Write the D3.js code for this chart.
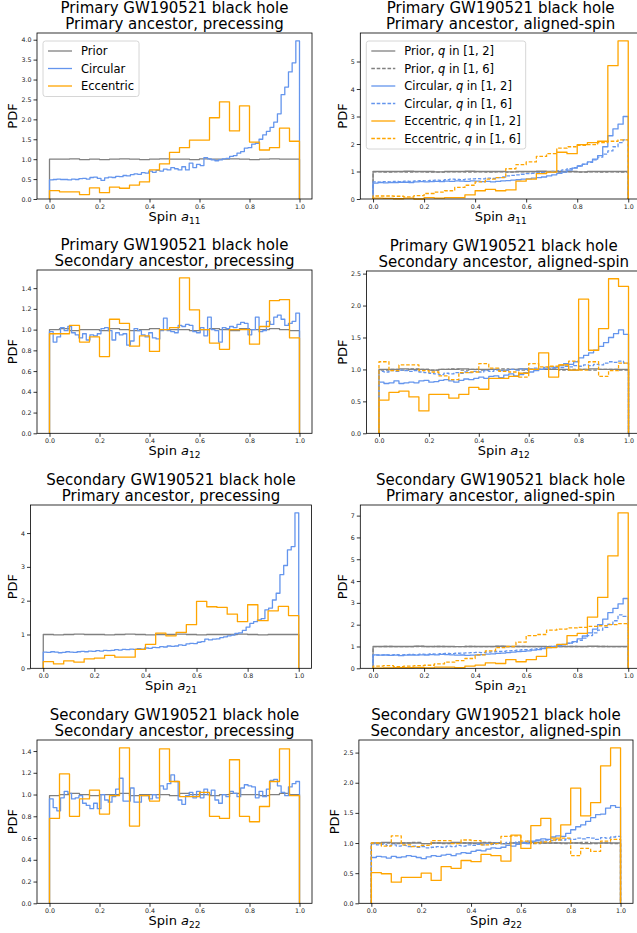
<!DOCTYPE html>
<html>
<head>
<meta charset="utf-8">
<script src="https://cdn.jsdelivr.net/npm/d3@7"></script>
<style>
    body { margin: 0; background: #fff; }
    svg { display: block; font-family: "DejaVu Sans", sans-serif; }
</style>
</head>
<body>
<div class="vis"></div>

<script>
    // ---- data (PDF heights per bin, bins span 0..1) ----
    var xTicks = [0, 0.2, 0.4, 0.6, 0.8, 1.0];
    var yTicksP1 = [0, 0.5, 1.0, 1.5, 2.0, 2.5, 3.0, 3.5, 4.0];
    var yTicksP2 = [0, 1, 2, 3, 4, 5];
    var yTicksP3 = [0, 0.2, 0.4, 0.6, 0.8, 1.0, 1.2, 1.4];
    var yTicksP4 = [0, 0.5, 1.0, 1.5, 2.0, 2.5];
    var yTicksP5 = [0, 1, 2, 3, 4];
    var yTicksP6 = [0, 1, 2, 3, 4, 5, 6, 7];
    var yTicksP7 = [0, 0.2, 0.4, 0.6, 0.8, 1.0, 1.2, 1.4];
    var yTicksP8 = [0, 0.5, 1.0, 1.5, 2.0, 2.5];

    var titles = [
        ["Primary GW190521 black hole", "Primary ancestor, precessing"],
        ["Primary GW190521 black hole", "Primary ancestor, aligned-spin"],
        ["Primary GW190521 black hole", "Secondary ancestor, precessing"],
        ["Primary GW190521 black hole", "Secondary ancestor, aligned-spin"],
        ["Secondary GW190521 black hole", "Primary ancestor, precessing"],
        ["Secondary GW190521 black hole", "Primary ancestor, aligned-spin"],
        ["Secondary GW190521 black hole", "Secondary ancestor, precessing"],
        ["Secondary GW190521 black hole", "Secondary ancestor, aligned-spin"]
    ];
    var spinSubs = ["11", "11", "12", "12", "21", "21", "22", "22"];

    var modelNames = ["Prior", "Circular", "Eccentric"];
    var qRanges = ["[1, 2]", "[1, 6]"];

    // panel 1: primary BH, primary ancestor, precessing
    var prior_p1 = [1.00, 1.00, 1.01, 0.99, 1.00, 0.99, 1.00, 1.01, 1.00, 0.99, 1.00, 1.01, 1.00, 1.00, 0.99, 1.01, 1.00, 1.00, 1.01, 1.00, 0.99, 1.00, 1.01, 1.00, 1.00];
    var circ_p1 = [0.48, 0.49, 0.50, 0.49, 0.49, 0.48, 0.50, 0.49, 0.51, 0.52, 0.50, 0.54, 0.55, 0.52, 0.47, 0.53, 0.55, 0.54, 0.57, 0.56, 0.59, 0.58, 0.61, 0.63, 0.62, 0.66, 0.65, 0.70, 0.67, 0.72, 0.70, 0.75, 0.73, 0.79, 0.76,
        0.73, 0.81, 0.73, 0.90, 0.79, 0.87, 0.84, 1.04, 1.01, 0.98, 0.96, 0.98, 1.01, 1.02, 1.07, 1.09, 1.15, 1.19, 1.28, 1.29, 1.38, 1.40, 1.50, 1.61, 1.70, 1.80, 1.93, 2.14, 2.62, 2.81, 3.19, 3.42, 3.97];
    var ecc_p1 = [0.21, 0.18, 0.18, 0.11, 0.28, 0.16, 0.30, 0.27, 0.35, 0.43, 0.73, 0.88, 1.17, 1.29, 1.48, 1.48, 2.04, 2.44, 1.71, 2.34, 1.43, 1.23, 1.29, 1.78, 1.45];

    // panel 2: primary BH, primary ancestor, aligned-spin
    var prior_p2_q2 = [1.00, 1.00, 1.00, 1.01, 1.00, 1.00, 0.99, 1.00, 1.00, 1.01, 1.00, 1.00, 1.00, 0.99, 1.00, 1.00, 1.01, 1.00, 1.00, 1.00, 0.99, 1.00, 1.00, 1.00, 1.00];
    var prior_p2_q6 = [0.99, 0.98, 0.99, 0.98, 0.99, 0.98, 0.98, 0.99, 0.99, 0.98, 0.99, 0.98, 0.99, 0.98, 0.99, 0.99, 0.98, 0.99, 0.98, 0.99, 0.98, 0.99, 0.98, 0.99, 0.98];
    var circ_p2_q2 = [0.58, 0.60, 0.59, 0.60, 0.60, 0.61, 0.61, 0.60, 0.62, 0.63, 0.62, 0.63, 0.64, 0.63, 0.65, 0.64, 0.66, 0.65, 0.64, 0.66, 0.65, 0.63, 0.64, 0.62, 0.64,
        0.66, 0.67, 0.69, 0.70, 0.72, 0.73, 0.76, 0.78, 0.80, 0.84, 0.88, 0.93, 0.98, 1.05, 1.12, 1.20, 1.27, 1.35, 1.45, 1.58, 1.90, 2.30, 2.55, 2.72, 3.00];
    var circ_p2_q6 = [0.62, 0.61, 0.63, 0.62, 0.64, 0.63, 0.65, 0.64, 0.66, 0.67, 0.66, 0.68, 0.69, 0.68, 0.70, 0.72, 0.71, 0.70, 0.72, 0.73, 0.74, 0.73, 0.76, 0.75, 0.78,
        0.80, 0.84, 0.86, 0.88, 0.90, 0.92, 0.93, 0.95, 0.97, 0.98, 1.00, 1.03, 1.06, 1.10, 1.14, 1.20, 1.26, 1.33, 1.42, 1.52, 1.63, 1.75, 1.90, 2.05, 2.15];
    var ecc_p2_q2 = [0.03, 0.02, 0.01, 0.03, 0.00, 0.05, 0.03, 0.05, 0.05, 0.15, 0.30, 0.35, 0.30, 0.33, 0.65, 0.72, 0.92, 0.98, 1.70, 1.65, 1.98, 2.05, 2.10, 4.85, 5.75];
    var ecc_p2_q6 = [0.11, 0.11, 0.10, 0.08, 0.12, 0.20, 0.25, 0.30, 0.42, 0.50, 0.62, 0.72, 0.78, 1.10, 1.25, 1.35, 1.55, 1.65, 1.85, 1.90, 1.95, 1.98, 2.05, 2.10, 2.15];

    // panel 3: primary BH, secondary ancestor, precessing
    var prior_p3 = [1.00, 1.01, 0.99, 1.00, 1.00, 0.99, 1.01, 1.00, 0.99, 1.00, 1.01, 1.00, 1.00, 1.00, 0.99, 1.00, 1.01, 1.00, 0.99, 1.01, 1.00, 1.00, 1.01, 1.00, 0.99];
    var circ_p3 = [0.98, 0.88, 0.93, 1.02, 0.99, 1.03, 0.97, 0.95, 0.92, 0.96, 0.90, 0.95, 0.94, 0.96, 1.01, 1.02, 0.99, 0.90, 0.97, 0.95, 0.96, 0.85, 0.89, 1.01, 0.99, 0.95, 0.93, 0.97, 0.92, 0.91, 0.99, 1.11, 0.99, 0.98,
        0.97, 1.04, 1.03, 1.05, 1.04, 0.98, 0.97, 1.02, 0.94, 1.12, 1.00, 0.99, 0.88, 1.02, 1.01, 1.03, 1.02, 1.05, 1.07, 1.06, 0.95, 1.00, 1.12, 0.98, 0.99, 1.08, 1.05, 1.12, 1.14, 1.10, 1.04, 1.06, 1.08, 1.16];
    var ecc_p3 = [0.96, 0.96, 1.04, 0.88, 0.93, 0.74, 1.10, 1.06, 0.84, 0.94, 0.79, 1.00, 1.02, 1.50, 1.19, 1.00, 0.87, 0.81, 1.00, 1.00, 0.86, 1.03, 1.28, 1.29, 0.92];

    // panel 4: primary BH, secondary ancestor, aligned-spin
    var prior_p4_q2 = [1.00, 1.00, 1.01, 1.00, 1.00, 0.99, 1.00, 1.00, 1.01, 1.00, 1.00, 1.00, 0.99, 1.00, 1.01, 1.00, 1.00, 1.00, 1.00, 0.99, 1.00, 1.01, 1.00, 1.00, 1.00];
    var prior_p4_q6 = [0.99, 1.00, 0.99, 1.01, 1.00, 0.99, 1.00, 1.01, 0.99, 1.00, 0.99, 1.00, 1.01, 1.00, 0.99, 1.00, 1.00, 1.01, 0.99, 1.00, 1.00, 0.99, 1.00, 1.00, 0.99];
    var circ_p4_q2 = [0.80, 0.78, 0.79, 0.82, 0.78, 0.79, 0.80, 0.79, 0.82, 0.83, 0.80, 0.81, 0.83, 0.84, 0.82, 0.80, 0.83, 0.85, 0.84, 0.86, 0.88, 0.86, 0.89, 0.90, 0.87,
        0.91, 0.93, 0.90, 0.92, 0.95, 0.96, 0.98, 1.00, 1.02, 1.04, 1.03, 1.06, 1.09, 1.08, 1.12, 1.18, 1.22, 1.26, 1.30, 1.36, 1.42, 1.50, 1.56, 1.62, 1.55];
    var circ_p4_q6 = [0.97, 0.96, 0.98, 0.97, 0.99, 0.98, 0.97, 0.98, 0.96, 0.95, 0.94, 0.93, 0.92, 0.94, 0.93, 0.95, 0.94, 0.96, 0.95, 0.97, 0.96, 0.98, 0.97, 0.99, 0.98,
        0.99, 1.00, 0.99, 1.01, 1.00, 1.01, 1.02, 1.00, 1.03, 1.02, 1.04, 1.03, 1.05, 1.04, 1.06, 1.05, 1.07, 1.06, 1.08, 1.07, 1.10, 1.12, 1.11, 1.13, 1.10];
    var ecc_p4_q2 = [0.52, 0.64, 0.66, 0.57, 0.35, 0.61, 0.61, 0.55, 0.61, 0.72, 0.69, 0.86, 0.86, 0.89, 0.94, 1.00, 1.26, 0.88, 1.07, 0.99, 2.10, 1.30, 1.64, 2.42, 2.30];
    var ecc_p4_q6 = [1.12, 0.98, 1.07, 1.07, 0.98, 0.96, 0.90, 0.84, 0.95, 0.96, 1.09, 1.02, 0.97, 0.96, 0.88, 1.09, 1.04, 1.05, 1.07, 1.13, 0.99, 1.12, 0.89, 0.98, 1.10];

    // panel 5: secondary BH, primary ancestor, precessing
    var prior_p5 = [1.00, 0.99, 1.00, 1.01, 1.00, 1.00, 0.99, 1.00, 1.01, 1.00, 0.99, 1.00, 1.00, 1.01, 1.00, 0.99, 1.00, 1.00, 1.00, 1.01, 1.00, 0.99, 1.00, 1.00, 1.00];
    var circ_p5 = [0.48, 0.47, 0.49, 0.48, 0.46, 0.47, 0.49, 0.48, 0.47, 0.49, 0.50, 0.49, 0.51, 0.50, 0.52, 0.51, 0.53, 0.52, 0.53, 0.55, 0.54, 0.56, 0.55, 0.57, 0.56, 0.58, 0.57, 0.60, 0.59, 0.62, 0.61, 0.64, 0.63, 0.66, 0.65,
        0.66, 0.69, 0.68, 0.72, 0.74, 0.73, 0.77, 0.79, 0.86, 0.84, 0.86, 0.87, 0.91, 0.93, 0.96, 0.98, 1.03, 1.05, 1.12, 1.22, 1.33, 1.38, 1.43, 1.47, 1.73, 1.78, 2.02, 2.22, 2.77, 3.04, 3.50, 3.60, 4.60];
    var ecc_p5 = [0.20, 0.13, 0.22, 0.18, 0.28, 0.30, 0.38, 0.33, 0.33, 0.56, 0.71, 1.04, 0.96, 1.06, 1.29, 1.98, 1.82, 1.80, 1.60, 1.38, 1.88, 1.41, 1.70, 1.83, 1.56];

    // panel 6: secondary BH, primary ancestor, aligned-spin
    var prior_p6_q2 = [1.00, 1.00, 1.00, 1.00, 1.01, 1.00, 1.00, 1.00, 0.99, 1.00, 1.00, 1.00, 1.01, 1.00, 1.00, 1.00, 1.00, 0.99, 1.00, 1.00, 1.00, 1.01, 1.00, 1.00, 1.00];
    var prior_p6_q6 = [0.99, 1.00, 0.99, 0.99, 1.00, 0.99, 1.00, 0.99, 0.99, 1.00, 0.99, 0.99, 1.00, 0.99, 1.00, 0.99, 0.99, 1.00, 0.99, 1.00, 0.99, 0.99, 1.00, 0.99, 0.99];
    var circ_p6_q2 = [0.62, 0.60, 0.61, 0.59, 0.60, 0.58, 0.60, 0.61, 0.60, 0.62, 0.61, 0.63, 0.62, 0.64, 0.63, 0.62, 0.60, 0.61, 0.59, 0.60, 0.61, 0.63, 0.65, 0.66, 0.68,
        0.70, 0.72, 0.74, 0.76, 0.78, 0.80, 0.83, 0.86, 0.90, 0.95, 1.00, 1.05, 1.10, 1.15, 1.22, 1.35, 1.48, 1.62, 1.80, 2.00, 2.25, 2.55, 2.75, 2.95, 3.20];
    var circ_p6_q6 = [0.60, 0.61, 0.62, 0.61, 0.63, 0.62, 0.63, 0.64, 0.63, 0.65, 0.64, 0.66, 0.65, 0.67, 0.68, 0.67, 0.69, 0.70, 0.71, 0.72, 0.73, 0.72, 0.74, 0.75, 0.77,
        0.78, 0.80, 0.81, 0.83, 0.85, 0.86, 0.88, 0.90, 0.93, 0.96, 0.99, 1.03, 1.08, 1.14, 1.20, 1.28, 1.38, 1.50, 1.62, 1.75, 1.88, 2.02, 2.18, 2.45, 2.38];
    var ecc_p6_q2 = [0.01, 0.02, 0.03, 0.03, 0.04, 0.02, 0.05, 0.05, 0.03, 0.10, 0.15, 0.25, 0.22, 0.40, 0.30, 0.40, 0.55, 0.95, 1.10, 1.50, 1.60, 2.35, 3.25, 5.15, 7.13];
    var ecc_p6_q6 = [0.10, 0.12, 0.08, 0.10, 0.12, 0.14, 0.20, 0.28, 0.35, 0.45, 0.62, 0.80, 0.95, 1.00, 1.20, 1.50, 1.55, 1.75, 1.80, 1.85, 1.88, 1.92, 1.95, 2.00, 2.05];

    // panel 7: secondary BH, secondary ancestor, precessing
    var prior_p7 = [0.99, 1.00, 1.01, 1.00, 0.99, 1.00, 1.00, 1.01, 0.99, 1.00, 1.00, 1.00, 0.99, 1.01, 1.00, 1.00, 0.99, 1.00, 1.01, 1.00, 1.00, 0.99, 1.00, 1.01, 1.00];
    var circ_p7 = [0.96, 0.88, 0.85, 0.97, 1.03, 1.01, 0.96, 0.97, 0.99, 0.92, 0.90, 0.87, 0.92, 0.87, 1.00, 0.95, 0.93, 0.98, 1.05, 1.15, 0.94, 0.94, 1.06, 0.93, 0.93, 0.99, 0.99, 0.96, 1.00, 0.97, 1.08, 1.05, 1.10, 1.18,
        1.12, 0.95, 0.91, 0.99, 1.02, 0.97, 1.03, 0.97, 1.05, 1.00, 1.04, 0.95, 0.92, 1.00, 0.98, 1.03, 1.01, 0.98, 1.06, 1.09, 1.08, 1.07, 0.97, 1.03, 0.98, 1.05, 1.13, 1.14, 1.08, 1.02, 0.99, 1.07, 1.10, 1.12];
    var ecc_p7 = [0.78, 1.19, 0.80, 0.96, 1.04, 0.82, 0.99, 1.43, 0.71, 0.99, 0.94, 1.42, 1.12, 0.98, 0.98, 1.02, 0.80, 0.78, 1.32, 0.80, 0.75, 0.89, 1.12, 1.42, 0.99];

    // panel 8: secondary BH, secondary ancestor, aligned-spin
    var prior_p8_q2 = [1.00, 1.01, 1.00, 1.00, 1.00, 0.99, 1.00, 1.00, 1.01, 1.00, 1.00, 1.00, 1.00, 0.99, 1.00, 1.00, 1.01, 1.00, 1.00, 1.00, 1.00, 0.99, 1.00, 1.00, 1.00];
    var prior_p8_q6 = [0.99, 1.00, 0.99, 1.00, 1.01, 0.99, 1.00, 0.99, 1.00, 1.00, 0.99, 1.01, 1.00, 0.99, 1.00, 1.01, 0.99, 1.00, 1.00, 0.99, 1.00, 1.01, 0.99, 1.00, 0.99];
    var circ_p8_q2 = [0.76, 0.78, 0.77, 0.75, 0.78, 0.76, 0.77, 0.79, 0.78, 0.76, 0.74, 0.77, 0.79, 0.78, 0.80, 0.81, 0.79, 0.82, 0.84, 0.83, 0.86, 0.88, 0.87, 0.90, 0.92,
        0.91, 0.93, 0.96, 0.95, 0.98, 1.00, 0.99, 1.03, 1.05, 1.07, 1.06, 1.10, 1.12, 1.11, 1.16, 1.22, 1.27, 1.30, 1.36, 1.42, 1.47, 1.48, 1.58, 1.62, 1.59];
    var circ_p8_q6 = [0.99, 0.97, 0.98, 0.96, 0.97, 0.95, 0.96, 0.94, 0.95, 0.93, 0.94, 0.92, 0.93, 0.94, 0.93, 0.95, 0.94, 0.96, 0.95, 0.97, 0.96, 0.98, 0.97, 0.99, 0.98,
        1.00, 0.99, 1.01, 1.00, 1.02, 1.01, 1.03, 1.02, 1.04, 1.03, 1.05, 1.04, 1.06, 1.05, 1.07, 1.06, 1.08, 1.07, 1.09, 1.08, 1.06, 1.09, 1.08, 1.10, 1.11];
    var ecc_p8_q2 = [0.51, 0.49, 0.35, 0.43, 0.43, 0.50, 0.38, 0.61, 0.58, 0.71, 0.69, 0.81, 0.79, 0.70, 1.13, 0.91, 1.29, 1.41, 1.08, 1.30, 1.91, 1.45, 1.67, 2.28, 2.58];
    var ecc_p8_q6 = [1.00, 0.95, 1.12, 0.97, 0.94, 0.96, 1.04, 1.04, 0.99, 1.05, 1.04, 0.97, 0.99, 1.11, 1.12, 1.03, 1.00, 1.02, 1.05, 1.08, 0.79, 0.91, 0.86, 1.03, 1.06];

    // ---- layout / styling ----
    var width = 637, height = 933;
    var gray = "#808080", blue = "#6495ed", orange = "#ffa500";
    var dash = "3.6,1.8";

    function precSeries(prior, circ, ecc) {
        return [
            { values: prior, color: gray, dashed: false },
            { values: circ, color: blue, dashed: false },
            { values: ecc, color: orange, dashed: false }
        ];
    }
    function alignSeries(p2, p6, c2, c6, e2, e6) {
        return [
            { values: p2, color: gray, dashed: false },
            { values: p6, color: gray, dashed: true },
            { values: c2, color: blue, dashed: false },
            { values: c6, color: blue, dashed: true },
            { values: e2, color: orange, dashed: false },
            { values: e6, color: orange, dashed: true }
        ];
    }

    var panels = [
        { box: { left: 37, right: 312, top: 33, bottom: 199 }, yTicks: yTicksP1, fmt: ".1f",
          series: precSeries(prior_p1, circ_p1, ecc_p1), legend: "prec" },
        { box: { left: 360.3, right: 641, top: 33, bottom: 199 }, yTicks: yTicksP2, fmt: "d",
          series: alignSeries(prior_p2_q2, prior_p2_q6, circ_p2_q2, circ_p2_q6, ecc_p2_q2, ecc_p2_q6), legend: "align" },
        { box: { left: 37, right: 312, top: 270, bottom: 433.3 }, yTicks: yTicksP3, fmt: ".1f",
          series: precSeries(prior_p3, circ_p3, ecc_p3) },
        { box: { left: 366.5, right: 641, top: 271, bottom: 433.3 }, yTicks: yTicksP4, fmt: ".1f",
          series: alignSeries(prior_p4_q2, prior_p4_q6, circ_p4_q2, circ_p4_q6, ecc_p4_q2, ecc_p4_q6) },
        { box: { left: 30.5, right: 311.5, top: 505, bottom: 668.3 }, yTicks: yTicksP5, fmt: "d",
          series: precSeries(prior_p5, circ_p5, ecc_p5) },
        { box: { left: 360.3, right: 641, top: 505, bottom: 668.3 }, yTicks: yTicksP6, fmt: "d",
          series: alignSeries(prior_p6_q2, prior_p6_q6, circ_p6_q2, circ_p6_q6, ecc_p6_q2, ecc_p6_q6) },
        { box: { left: 37, right: 312, top: 740, bottom: 903.3 }, yTicks: yTicksP7, fmt: ".1f",
          series: precSeries(prior_p7, circ_p7, ecc_p7) },
        { box: { left: 358.9, right: 633, top: 740, bottom: 903.3 }, yTicks: yTicksP8, fmt: ".1f",
          series: alignSeries(prior_p8_q2, prior_p8_q6, circ_p8_q2, circ_p8_q6, ecc_p8_q2, ecc_p8_q6) }
    ];

    var svg = d3.select(".vis")
        .append("svg")
        .attr("width", width)
        .attr("height", height);

    svg.append("rect")
        .attr("width", width)
        .attr("height", height)
        .attr("fill", "white");

    var step = d3.line()
        .curve(d3.curveStepAfter);

    panels.forEach(function (p, pi) {
        var b = p.box;
        var g = svg.append("g");

        var x = d3.scaleLinear()
            .domain([-0.05, 1.05])
            .range([b.left, b.right]);

        var ymax = d3.max(p.series, s => d3.max(s.values)) * 1.05;
        var y = d3.scaleLinear()
            .domain([0, ymax])
            .range([b.bottom, b.top]);

        // step histograms (matplotlib histtype="step")
        p.series.forEach(function (s) {
            var n = s.values.length;
            var pts = [[x(0), y(0)]];
            s.values.forEach(function (v, i) { pts.push([x(i / n), y(v)]); });
            pts.push([x(1), y(s.values[n - 1])]);
            pts.push([x(1), y(0)]);
            g.append("path")
                .attr("d", step(pts))
                .attr("fill", "none")
                .attr("stroke", s.color)
                .attr("stroke-width", 1.3)
                .attr("stroke-linejoin", "round")
                .attr("stroke-dasharray", s.dashed ? dash : null);
        });

        // axes
        var xg = g.append("g")
            .attr("transform", `translate(0,${b.bottom})`)
            .call(d3.axisBottom(x).tickValues(xTicks).tickFormat(d3.format(".1f")).tickSize(3.5).tickPadding(2))
            .call(g => g.select(".domain").remove());

        var yg = g.append("g")
            .attr("transform", `translate(${b.left},0)`)
            .call(d3.axisLeft(y).tickValues(p.yTicks).tickFormat(d3.format(p.fmt)).tickSize(3.5).tickPadding(2))
            .call(g => g.select(".domain").remove());

        [xg, yg].forEach(function (ag) {
            ag.attr("font-family", "DejaVu Sans").attr("font-size", 6.3);
            ag.selectAll(".tick line").attr("stroke", "#000").attr("stroke-width", 0.8);
            ag.selectAll(".tick text").attr("fill", "#222");
        });

        // frame
        g.append("rect")
            .attr("x", b.left)
            .attr("y", b.top)
            .attr("width", b.right - b.left)
            .attr("height", b.bottom - b.top)
            .attr("fill", "none")
            .attr("stroke", "#000")
            .attr("stroke-width", 0.8);

        var cx = (b.left + b.right) / 2;

        // title, two lines
        g.append("text")
            .attr("x", cx)
            .attr("y", b.top - 20.5)
            .attr("text-anchor", "middle")
            .attr("font-size", 15)
            .text(titles[pi][0]);
        g.append("text")
            .attr("x", cx)
            .attr("y", b.top - 4)
            .attr("text-anchor", "middle")
            .attr("font-size", 15)
            .text(titles[pi][1]);

        // x label: Spin a_ij
        var xl = g.append("text")
            .attr("x", cx)
            .attr("y", b.bottom + 22)
            .attr("text-anchor", "middle")
            .attr("font-size", 13);
        xl.append("tspan").text("Spin ");
        xl.append("tspan").attr("font-style", "italic").text("a");
        xl.append("tspan").attr("dy", 3).attr("font-size", 9).text(spinSubs[pi]);

        // y label, left of the tick labels (bbox is in the axis group's own coords)
        var bb = yg.node().getBBox();
        var lx = b.left + bb.x - 4, ly = (b.top + b.bottom) / 2;
        g.append("text")
            .attr("transform", `translate(${lx},${ly}) rotate(-90)`)
            .attr("text-anchor", "middle")
            .attr("font-size", 13)
            .text("PDF");

        if (p.legend) drawLegend(g, b, p.legend);
    });

    function drawLegend(g, b, kind) {
        var items = [];
        if (kind === "prec") {
            modelNames.forEach((m, i) => items.push({ name: m, q: null, color: [gray, blue, orange][i], dashed: false }));
        } else {
            modelNames.forEach((m, i) => qRanges.forEach((q, j) =>
                items.push({ name: m, q: q, color: [gray, blue, orange][i], dashed: j === 1 })));
        }
        var fs = 11.5, rowH = 17.5;
        var x0 = b.left + 6, y0 = b.top + 8;
        var lg = g.append("g");
        var frame = lg.append("rect")
            .attr("x", x0)
            .attr("y", y0)
            .attr("rx", 2.5)
            .attr("fill", "white")
            .attr("fill-opacity", 0.8)
            .attr("stroke", "#cccccc")
            .attr("stroke-width", 0.8);

        var maxW = 0;
        items.forEach(function (it, i) {
            var cy = y0 + 10 + i * rowH;
            lg.append("line")
                .attr("x1", x0 + 5).attr("x2", x0 + 29)
                .attr("y1", cy).attr("y2", cy)
                .attr("stroke", it.color)
                .attr("stroke-width", 1.3)
                .attr("stroke-dasharray", it.dashed ? dash : null);
            var t = lg.append("text")
                .attr("x", x0 + 38)
                .attr("y", cy + 4)
                .attr("font-size", fs);
            if (it.q) {
                t.append("tspan").text(it.name + ", ");
                t.append("tspan").attr("font-style", "italic").text("q");
                t.append("tspan").text(" in " + it.q);
            } else {
                t.text(it.name);
            }
            maxW = Math.max(maxW, t.node().getComputedTextLength());
        });
        frame.attr("width", 38 + maxW + 5)
            .attr("height", items.length * rowH + 3);
    }
</script>
</body>
</html>
